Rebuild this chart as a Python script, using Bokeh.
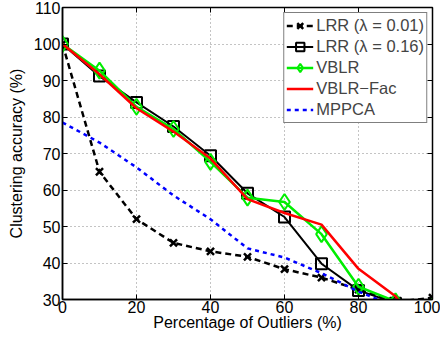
from bokeh.plotting import figure
from bokeh.models import FixedTicker, LinearAxis, Legend, LegendItem, Range1d
from bokeh.embed import file_html
from bokeh.resources import INLINE

outliers = [0, 10, 20, 30, 40, 50, 60, 70, 80, 90, 100]
lrr_001 = [100, 65, 52, 45.5, 43.2, 41.7, 38.3, 36, 32.7, 29.3, 30.5]
lrr_016 = [100, 91.2, 84, 77.4, 69.4, 59.1, 52.6, 39.8, 32.5, 29.0, 28.0]
vblr = [100, 92.7, 82.8, 76.7, 67.7, 57.9, 56.7, 47.9, 33.5, 29.5, 28.0]
vblr_fac = [100, 91.7, 82.4, 76.0, 68.6, 57.5, 53.7, 50.5, 38.4, 30.9, 17.0]
mppca = [78.5, 73.0, 66.2, 58.5, 52.0, 44.0, 41.5, 37.2, 32.2, 28.0, 25.0]

x_ticks = [0, 20, 40, 60, 80, 100]
y_ticks = [30, 40, 50, 60, 70, 80, 90, 100, 110]

FONT = "Liberation Sans"

p = figure(width=440, height=333, output_backend="svg", toolbar_location=None,
           x_range=Range1d(0, 100), y_range=Range1d(30, 110),
           min_border_left=62, min_border_right=8, min_border_top=7, min_border_bottom=34)
p.outline_line_color = "black"
p.outline_line_width = 1.5
p.background_fill_color = "white"

for ax in [p.xaxis[0], p.yaxis[0]]:
    ax.major_tick_in = 5
    ax.major_tick_out = 0
    ax.minor_tick_line_color = None
    ax.axis_line_width = 1.5
    ax.major_tick_line_width = 1
    ax.major_label_text_font = FONT
    ax.major_label_text_font_size = "16px"
    ax.major_label_text_color = "black"
    ax.axis_label_text_font = FONT
    ax.axis_label_text_font_size = "16px"
    ax.axis_label_text_font_style = "normal"
    ax.axis_label_text_color = "black"

p.xaxis.ticker = FixedTicker(ticks=x_ticks)
p.yaxis.ticker = FixedTicker(ticks=y_ticks)
p.xaxis.axis_label = "Percentage of Outliers (%)"
p.yaxis.axis_label = "Clustering accuracy (%)"
p.xaxis.axis_label_standoff = -2
p.yaxis.axis_label_standoff = 6
p.xaxis.major_label_standoff = 1
p.yaxis.major_label_standoff = 2

right = LinearAxis(ticker=FixedTicker(ticks=y_ticks),
                   major_label_overrides={t: "" for t in y_ticks},
                   major_tick_in=5, major_tick_out=0, minor_tick_line_color=None,
                   axis_line_color=None, major_label_standoff=0)
above = LinearAxis(ticker=FixedTicker(ticks=x_ticks),
                   major_label_overrides={t: "" for t in x_ticks},
                   major_tick_in=5, major_tick_out=0, minor_tick_line_color=None,
                   axis_line_color=None, major_label_standoff=0)
p.add_layout(right, "right")
p.add_layout(above, "above")

p.xgrid.ticker = FixedTicker(ticks=x_ticks)
p.ygrid.ticker = FixedTicker(ticks=y_ticks)
p.grid.grid_line_color = "#888888"
p.grid.grid_line_dash = "1 3"
p.grid.grid_line_width = 1

l1 = p.line(outliers, lrr_001, color="black", line_width=2.5, line_dash="6 4")
m1 = p.scatter(outliers, lrr_001, marker="x", size=10, line_color="black", line_width=2.5)
l2 = p.line(outliers, lrr_016, color="black", line_width=2)
m2 = p.scatter(outliers, lrr_016, marker="square", size=11, line_color="black",
               fill_color=None, line_width=2)
l3 = p.line(outliers, vblr, color="#00ee00", line_width=2.5)
m3 = p.scatter(outliers, vblr, marker="diamond", size=16, line_color="#00ee00",
               fill_color=None, line_width=2)
l4 = p.line(outliers, vblr_fac, color="red", line_width=2.5)
l5 = p.line(outliers, mppca, color="blue", line_width=2.5, line_dash="4 4")

legend = Legend(items=[
    LegendItem(label="LRR (\u03bb = 0.01)", renderers=[l1, m1]),
    LegendItem(label="LRR (\u03bb = 0.16)", renderers=[l2, m2]),
    LegendItem(label="VBLR", renderers=[l3, m3]),
    LegendItem(label="VBLR\u2212Fac", renderers=[l4]),
    LegendItem(label="MPPCA", renderers=[l5]),
], location="top_right")
legend.label_text_font = FONT
legend.label_text_font_size = "16.5px"
legend.label_standoff = 3
legend.glyph_width = 27
legend.glyph_height = 21
legend.label_height = 21
legend.spacing = 0
legend.padding = 2
legend.margin = 5
legend.border_line_color = "black"
legend.border_line_width = 1
legend.background_fill_alpha = 1
p.add_layout(legend, "center")

open("out.html", "w").write(file_html(p, INLINE))
